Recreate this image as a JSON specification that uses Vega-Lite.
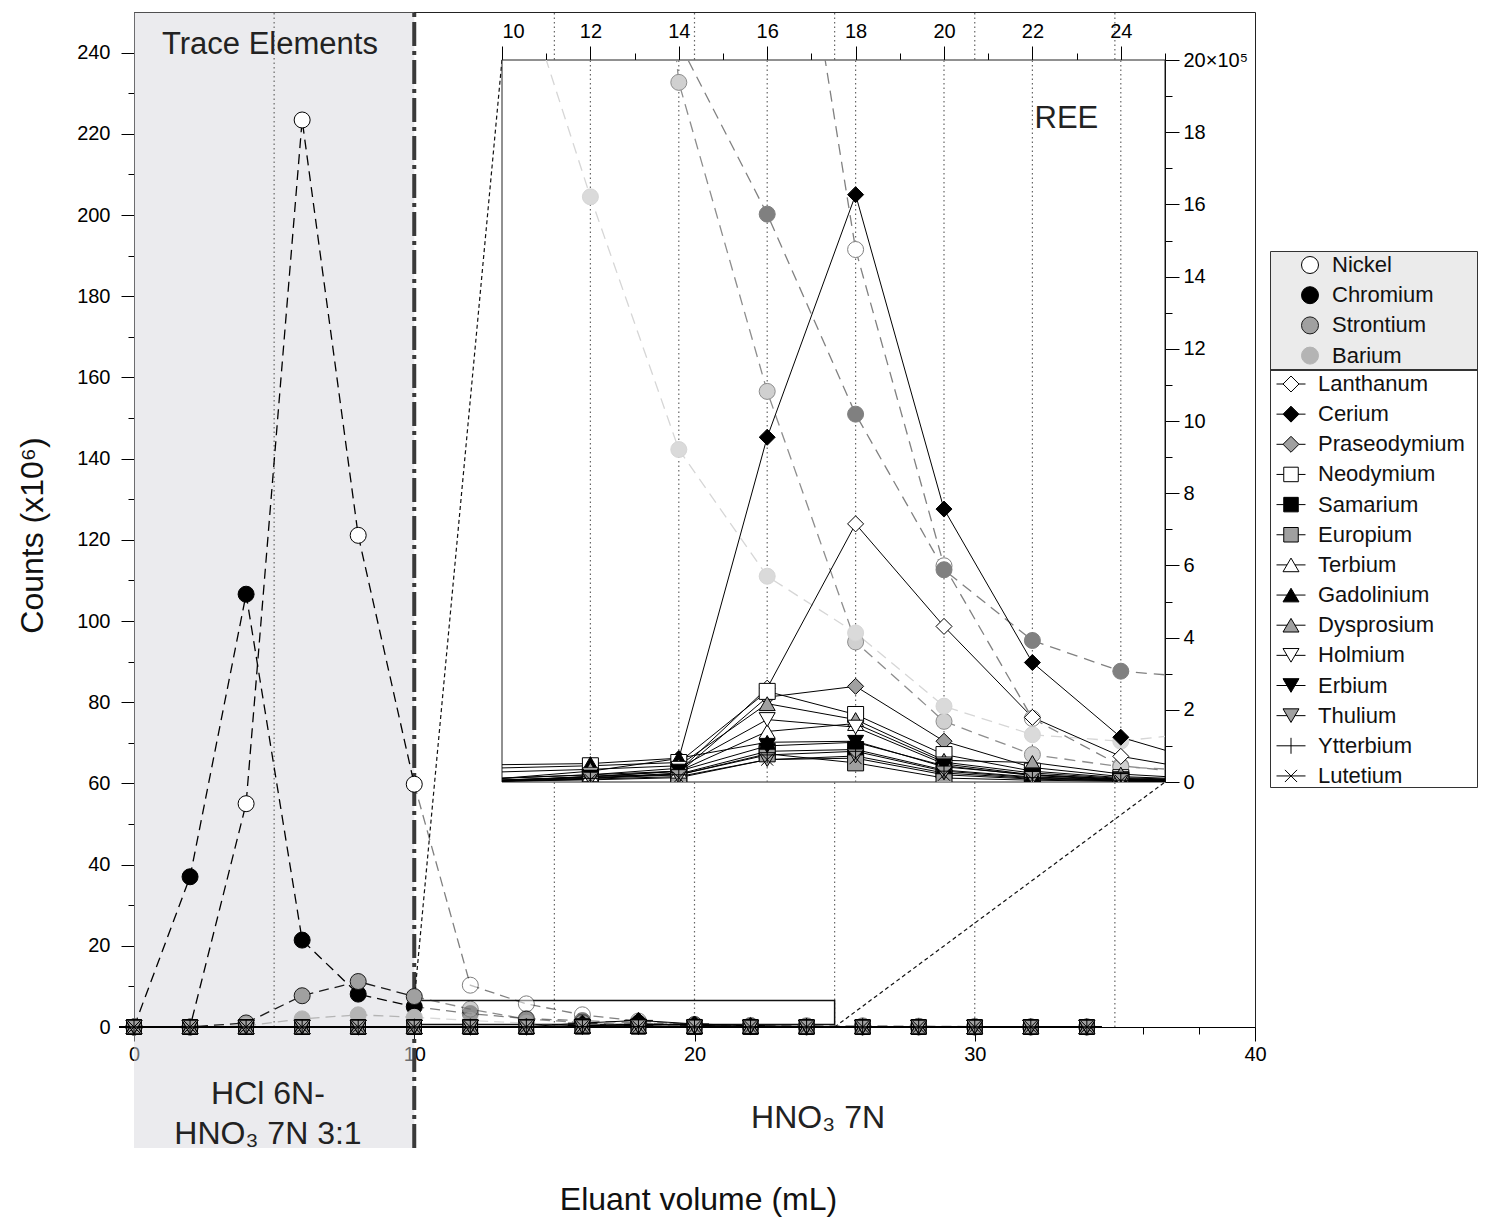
{
"$schema": "https://vega.github.io/schema/vega-lite/v6.json",
"autosize": {"type": "none"},
"padding": {"left": 134, "top": 12, "right": 233, "bottom": 194},
"width": 1121, "height": 1015,
"background": "white",
"view": {"stroke": "#222", "strokeWidth": 1},
"config": {
  "font": "Liberation Sans",
  "axis": {"grid": false, "labelFont": "Liberation Sans", "titleFont": "Liberation Sans", "labelFontSize": 20, "titleFontSize": 32, "titleFontWeight": "normal", "labelColor": "#000", "titleColor": "#111", "domainColor": "#000", "tickColor": "#000", "labelOverlap": false},
  "legend": {"labelFont": "Liberation Sans", "labelFontSize": 22, "labelColor": "#111", "labelLimit": 400, "symbolOpacity": 1}
},
"datasets": {
"trace": [
{"el":"Nickel","x":0,"c":0},{"el":"Nickel","x":2,"c":0},{"el":"Nickel","x":4,"c":55.0},{"el":"Nickel","x":6,"c":223.4},{"el":"Nickel","x":8,"c":121.1},{"el":"Nickel","x":10,"c":59.8},{"el":"Nickel","x":12,"c":10.3},{"el":"Nickel","x":14,"c":5.7},{"el":"Nickel","x":16,"c":3.0},{"el":"Nickel","x":18,"c":1.475},{"el":"Nickel","x":20,"c":0.599},{"el":"Nickel","x":22,"c":0.176},{"el":"Nickel","x":24,"c":0.045},{"el":"Nickel","x":26,"c":0.02},{"el":"Nickel","x":28,"c":0.01},{"el":"Nickel","x":30,"c":0},{"el":"Nickel","x":32,"c":0},{"el":"Nickel","x":34,"c":0},
{"el":"Chromium","x":0,"c":0},{"el":"Chromium","x":2,"c":37.0},{"el":"Chromium","x":4,"c":106.6},{"el":"Chromium","x":6,"c":21.4},{"el":"Chromium","x":8,"c":8.1},{"el":"Chromium","x":10,"c":5.0},{"el":"Chromium","x":12,"c":3.3},{"el":"Chromium","x":14,"c":2.05},{"el":"Chromium","x":16,"c":1.573},{"el":"Chromium","x":18,"c":1.019},{"el":"Chromium","x":20,"c":0.588},{"el":"Chromium","x":22,"c":0.392},{"el":"Chromium","x":24,"c":0.307},{"el":"Chromium","x":26,"c":0.287},{"el":"Chromium","x":28,"c":0.2},{"el":"Chromium","x":30,"c":0.1},{"el":"Chromium","x":32,"c":0.05},{"el":"Chromium","x":34,"c":0.03},
{"el":"Strontium","x":0,"c":0},{"el":"Strontium","x":2,"c":0},{"el":"Strontium","x":4,"c":1.0},{"el":"Strontium","x":6,"c":7.7},{"el":"Strontium","x":8,"c":11.2},{"el":"Strontium","x":10,"c":7.5},{"el":"Strontium","x":12,"c":4.4},{"el":"Strontium","x":14,"c":1.938},{"el":"Strontium","x":16,"c":1.082},{"el":"Strontium","x":18,"c":0.388},{"el":"Strontium","x":20,"c":0.168},{"el":"Strontium","x":22,"c":0.076},{"el":"Strontium","x":24,"c":0.042},{"el":"Strontium","x":26,"c":0.03},{"el":"Strontium","x":28,"c":0.02},{"el":"Strontium","x":30,"c":0.01},{"el":"Strontium","x":32,"c":0},{"el":"Strontium","x":34,"c":0},
{"el":"Barium","x":0,"c":0},{"el":"Barium","x":2,"c":0},{"el":"Barium","x":4,"c":0.3},{"el":"Barium","x":6,"c":2.0},{"el":"Barium","x":8,"c":3.0},{"el":"Barium","x":10,"c":2.38},{"el":"Barium","x":12,"c":1.621},{"el":"Barium","x":14,"c":0.921},{"el":"Barium","x":16,"c":0.57},{"el":"Barium","x":18,"c":0.413},{"el":"Barium","x":20,"c":0.21},{"el":"Barium","x":22,"c":0.131},{"el":"Barium","x":24,"c":0.113},{"el":"Barium","x":26,"c":0.14},{"el":"Barium","x":28,"c":0.08},{"el":"Barium","x":30,"c":0.04},{"el":"Barium","x":32,"c":0.02},{"el":"Barium","x":34,"c":0.01}
],
"ree": [
{"el":"Lanthanum","x":0,"c":0},{"el":"Lanthanum","x":2,"c":0},{"el":"Lanthanum","x":4,"c":0},{"el":"Lanthanum","x":6,"c":0},{"el":"Lanthanum","x":8,"c":0},{"el":"Lanthanum","x":10,"c":0.005},{"el":"Lanthanum","x":12,"c":0.015},{"el":"Lanthanum","x":14,"c":0.03},{"el":"Lanthanum","x":16,"c":0.26},{"el":"Lanthanum","x":18,"c":0.715},{"el":"Lanthanum","x":20,"c":0.431},{"el":"Lanthanum","x":22,"c":0.179},{"el":"Lanthanum","x":24,"c":0.071},{"el":"Lanthanum","x":26,"c":0.029},{"el":"Lanthanum","x":28,"c":0.012},{"el":"Lanthanum","x":30,"c":0.005},{"el":"Lanthanum","x":32,"c":0.003},{"el":"Lanthanum","x":34,"c":0.002},
{"el":"Cerium","x":0,"c":0},{"el":"Cerium","x":2,"c":0},{"el":"Cerium","x":4,"c":0},{"el":"Cerium","x":6,"c":0},{"el":"Cerium","x":8,"c":0},{"el":"Cerium","x":10,"c":0.01},{"el":"Cerium","x":12,"c":0.03},{"el":"Cerium","x":14,"c":0.065},{"el":"Cerium","x":16,"c":0.955},{"el":"Cerium","x":18,"c":1.627},{"el":"Cerium","x":20,"c":0.756},{"el":"Cerium","x":22,"c":0.331},{"el":"Cerium","x":24,"c":0.124},{"el":"Cerium","x":26,"c":0.052},{"el":"Cerium","x":28,"c":0.02},{"el":"Cerium","x":30,"c":0.008},{"el":"Cerium","x":32,"c":0.004},{"el":"Cerium","x":34,"c":0.002},
{"el":"Praseodymium","x":0,"c":0},{"el":"Praseodymium","x":2,"c":0},{"el":"Praseodymium","x":4,"c":0},{"el":"Praseodymium","x":6,"c":0},{"el":"Praseodymium","x":8,"c":0},{"el":"Praseodymium","x":10,"c":0.003},{"el":"Praseodymium","x":12,"c":0.01},{"el":"Praseodymium","x":14,"c":0.025},{"el":"Praseodymium","x":16,"c":0.235},{"el":"Praseodymium","x":18,"c":0.265},{"el":"Praseodymium","x":20,"c":0.113},{"el":"Praseodymium","x":22,"c":0.04},{"el":"Praseodymium","x":24,"c":0.015},{"el":"Praseodymium","x":26,"c":0.006},{"el":"Praseodymium","x":28,"c":0.003},{"el":"Praseodymium","x":30,"c":0.002},{"el":"Praseodymium","x":32,"c":0.001},{"el":"Praseodymium","x":34,"c":0.001},
{"el":"Neodymium","x":0,"c":0},{"el":"Neodymium","x":2,"c":0},{"el":"Neodymium","x":4,"c":0},{"el":"Neodymium","x":6,"c":0},{"el":"Neodymium","x":8,"c":0},{"el":"Neodymium","x":10,"c":0.039},{"el":"Neodymium","x":12,"c":0.045},{"el":"Neodymium","x":14,"c":0.054},{"el":"Neodymium","x":16,"c":0.251},{"el":"Neodymium","x":18,"c":0.187},{"el":"Neodymium","x":20,"c":0.076},{"el":"Neodymium","x":22,"c":0.03},{"el":"Neodymium","x":24,"c":0.012},{"el":"Neodymium","x":26,"c":0.005},{"el":"Neodymium","x":28,"c":0.003},{"el":"Neodymium","x":30,"c":0.002},{"el":"Neodymium","x":32,"c":0.001},{"el":"Neodymium","x":34,"c":0.001},
{"el":"Samarium","x":0,"c":0},{"el":"Samarium","x":2,"c":0},{"el":"Samarium","x":4,"c":0},{"el":"Samarium","x":6,"c":0},{"el":"Samarium","x":8,"c":0},{"el":"Samarium","x":10,"c":0.006},{"el":"Samarium","x":12,"c":0.012},{"el":"Samarium","x":14,"c":0.022},{"el":"Samarium","x":16,"c":0.085},{"el":"Samarium","x":18,"c":0.09},{"el":"Samarium","x":20,"c":0.033},{"el":"Samarium","x":22,"c":0.014},{"el":"Samarium","x":24,"c":0.006},{"el":"Samarium","x":26,"c":0.003},{"el":"Samarium","x":28,"c":0.002},{"el":"Samarium","x":30,"c":0.001},{"el":"Samarium","x":32,"c":0.001},{"el":"Samarium","x":34,"c":0},
{"el":"Europium","x":0,"c":0},{"el":"Europium","x":2,"c":0},{"el":"Europium","x":4,"c":0},{"el":"Europium","x":6,"c":0},{"el":"Europium","x":8,"c":0},{"el":"Europium","x":10,"c":0.002},{"el":"Europium","x":12,"c":0.016},{"el":"Europium","x":14,"c":0.02},{"el":"Europium","x":16,"c":0.078},{"el":"Europium","x":18,"c":0.053},{"el":"Europium","x":20,"c":0.011},{"el":"Europium","x":22,"c":0.005},{"el":"Europium","x":24,"c":0.002},{"el":"Europium","x":26,"c":0.001},{"el":"Europium","x":28,"c":0.001},{"el":"Europium","x":30,"c":0},{"el":"Europium","x":32,"c":0},{"el":"Europium","x":34,"c":0},
{"el":"Terbium","x":0,"c":0},{"el":"Terbium","x":2,"c":0},{"el":"Terbium","x":4,"c":0},{"el":"Terbium","x":6,"c":0},{"el":"Terbium","x":8,"c":0},{"el":"Terbium","x":10,"c":0.01},{"el":"Terbium","x":12,"c":0.02},{"el":"Terbium","x":14,"c":0.03},{"el":"Terbium","x":16,"c":0.14},{"el":"Terbium","x":18,"c":0.162},{"el":"Terbium","x":20,"c":0.055},{"el":"Terbium","x":22,"c":0.025},{"el":"Terbium","x":24,"c":0.01},{"el":"Terbium","x":26,"c":0.004},{"el":"Terbium","x":28,"c":0.002},{"el":"Terbium","x":30,"c":0.001},{"el":"Terbium","x":32,"c":0.001},{"el":"Terbium","x":34,"c":0},
{"el":"Gadolinium","x":0,"c":0},{"el":"Gadolinium","x":2,"c":0},{"el":"Gadolinium","x":4,"c":0},{"el":"Gadolinium","x":6,"c":0},{"el":"Gadolinium","x":8,"c":0},{"el":"Gadolinium","x":10,"c":0.048},{"el":"Gadolinium","x":12,"c":0.051},{"el":"Gadolinium","x":14,"c":0.066},{"el":"Gadolinium","x":16,"c":0.11},{"el":"Gadolinium","x":18,"c":0.113},{"el":"Gadolinium","x":20,"c":0.042},{"el":"Gadolinium","x":22,"c":0.02},{"el":"Gadolinium","x":24,"c":0.008},{"el":"Gadolinium","x":26,"c":0.003},{"el":"Gadolinium","x":28,"c":0.002},{"el":"Gadolinium","x":30,"c":0.001},{"el":"Gadolinium","x":32,"c":0.001},{"el":"Gadolinium","x":34,"c":0},
{"el":"Dysprosium","x":0,"c":0},{"el":"Dysprosium","x":2,"c":0},{"el":"Dysprosium","x":4,"c":0},{"el":"Dysprosium","x":6,"c":0},{"el":"Dysprosium","x":8,"c":0},{"el":"Dysprosium","x":10,"c":0.028},{"el":"Dysprosium","x":12,"c":0.035},{"el":"Dysprosium","x":14,"c":0.045},{"el":"Dysprosium","x":16,"c":0.217},{"el":"Dysprosium","x":18,"c":0.173},{"el":"Dysprosium","x":20,"c":0.06},{"el":"Dysprosium","x":22,"c":0.054},{"el":"Dysprosium","x":24,"c":0.022},{"el":"Dysprosium","x":26,"c":0.008},{"el":"Dysprosium","x":28,"c":0.003},{"el":"Dysprosium","x":30,"c":0.002},{"el":"Dysprosium","x":32,"c":0.001},{"el":"Dysprosium","x":34,"c":0},
{"el":"Holmium","x":0,"c":0},{"el":"Holmium","x":2,"c":0},{"el":"Holmium","x":4,"c":0},{"el":"Holmium","x":6,"c":0},{"el":"Holmium","x":8,"c":0},{"el":"Holmium","x":10,"c":0.011},{"el":"Holmium","x":12,"c":0.02},{"el":"Holmium","x":14,"c":0.038},{"el":"Holmium","x":16,"c":0.173},{"el":"Holmium","x":18,"c":0.152},{"el":"Holmium","x":20,"c":0.05},{"el":"Holmium","x":22,"c":0.02},{"el":"Holmium","x":24,"c":0.008},{"el":"Holmium","x":26,"c":0.003},{"el":"Holmium","x":28,"c":0.002},{"el":"Holmium","x":30,"c":0.001},{"el":"Holmium","x":32,"c":0},{"el":"Holmium","x":34,"c":0},
{"el":"Erbium","x":0,"c":0},{"el":"Erbium","x":2,"c":0},{"el":"Erbium","x":4,"c":0},{"el":"Erbium","x":6,"c":0},{"el":"Erbium","x":8,"c":0},{"el":"Erbium","x":10,"c":0.005},{"el":"Erbium","x":12,"c":0.014},{"el":"Erbium","x":14,"c":0.03},{"el":"Erbium","x":16,"c":0.1},{"el":"Erbium","x":18,"c":0.11},{"el":"Erbium","x":20,"c":0.045},{"el":"Erbium","x":22,"c":0.018},{"el":"Erbium","x":24,"c":0.006},{"el":"Erbium","x":26,"c":0.002},{"el":"Erbium","x":28,"c":0.001},{"el":"Erbium","x":30,"c":0.001},{"el":"Erbium","x":32,"c":0},{"el":"Erbium","x":34,"c":0},
{"el":"Thulium","x":0,"c":0},{"el":"Thulium","x":2,"c":0},{"el":"Thulium","x":4,"c":0},{"el":"Thulium","x":6,"c":0},{"el":"Thulium","x":8,"c":0},{"el":"Thulium","x":10,"c":0.002},{"el":"Thulium","x":12,"c":0.008},{"el":"Thulium","x":14,"c":0.015},{"el":"Thulium","x":16,"c":0.062},{"el":"Thulium","x":18,"c":0.072},{"el":"Thulium","x":20,"c":0.025},{"el":"Thulium","x":22,"c":0.01},{"el":"Thulium","x":24,"c":0.004},{"el":"Thulium","x":26,"c":0.002},{"el":"Thulium","x":28,"c":0.001},{"el":"Thulium","x":30,"c":0},{"el":"Thulium","x":32,"c":0},{"el":"Thulium","x":34,"c":0},
{"el":"Ytterbium","x":0,"c":0},{"el":"Ytterbium","x":2,"c":0},{"el":"Ytterbium","x":4,"c":0},{"el":"Ytterbium","x":6,"c":0},{"el":"Ytterbium","x":8,"c":0},{"el":"Ytterbium","x":10,"c":0.003},{"el":"Ytterbium","x":12,"c":0.01},{"el":"Ytterbium","x":14,"c":0.02},{"el":"Ytterbium","x":16,"c":0.075},{"el":"Ytterbium","x":18,"c":0.085},{"el":"Ytterbium","x":20,"c":0.03},{"el":"Ytterbium","x":22,"c":0.012},{"el":"Ytterbium","x":24,"c":0.005},{"el":"Ytterbium","x":26,"c":0.002},{"el":"Ytterbium","x":28,"c":0.001},{"el":"Ytterbium","x":30,"c":0},{"el":"Ytterbium","x":32,"c":0},{"el":"Ytterbium","x":34,"c":0},
{"el":"Lutetium","x":0,"c":0},{"el":"Lutetium","x":2,"c":0},{"el":"Lutetium","x":4,"c":0},{"el":"Lutetium","x":6,"c":0},{"el":"Lutetium","x":8,"c":0},{"el":"Lutetium","x":10,"c":0.002},{"el":"Lutetium","x":12,"c":0.006},{"el":"Lutetium","x":14,"c":0.012},{"el":"Lutetium","x":16,"c":0.062},{"el":"Lutetium","x":18,"c":0.066},{"el":"Lutetium","x":20,"c":0.02},{"el":"Lutetium","x":22,"c":0.008},{"el":"Lutetium","x":24,"c":0.003},{"el":"Lutetium","x":26,"c":0.001},{"el":"Lutetium","x":28,"c":0.001},{"el":"Lutetium","x":30,"c":0},{"el":"Lutetium","x":32,"c":0},{"el":"Lutetium","x":34,"c":0}
]
},
"resolve": {"scale": {"x": "independent", "y": "independent", "shape": "independent", "fill": "independent", "stroke": "independent", "color": "independent"}},
"layer": [
{
  "layer": [
    {
      "data": {"values": [{}]},
      "mark": {"type": "rect", "fill": "#d7d7dd", "opacity": 0.5},
      "encoding": {
        "x": {"datum": 0, "type": "quantitative", "scale": {"domain": [0, 40], "nice": false, "zero": false},
          "axis": {"title": "Eluant volume (mL)", "values": [0,1,2,3,4,5,6,7,8,9,10,11,12,13,14,15,16,17,18,19,20,21,22,23,24,25,26,27,28,29,30,31,32,33,34,35,36,37,38,39,40],
            "labelExpr": "datum.value % 5 === 0 ? '' + datum.value : ''",
            "tickSize": {"condition": {"test": "datum.value % 5 === 0", "value": 14}, "value": 7},
            "labelPadding": 3, "labelFlush": false, "grid": false,
            "titleX": 564, "titleY": 182, "titleBaseline": "alphabetic", "titleAlign": "center"}},
        "x2": {"datum": 10},
        "y": {"datum": -29.8, "type": "quantitative", "scale": {"domain": [0, 250], "nice": false},
          "axis": {"title": "Counts (x10⁶)", "values": [0,10,20,30,40,50,60,70,80,90,100,110,120,130,140,150,160,170,180,190,200,210,220,230,240],
            "labelExpr": "datum.value % 20 === 0 ? '' + datum.value : ''",
            "tickSize": {"condition": {"test": "datum.value % 20 === 0", "value": 13}, "value": 6},
            "labelPadding": 11,
            "titleX": -92, "titleY": 523, "titleAngle": -90, "titleBaseline": "alphabetic", "titleAlign": "center"}},
        "y2": {"datum": 249.9}
      }
    },
    {
      "data": {"values": [{"g": 5}, {"g": 15}, {"g": 20}, {"g": 25}, {"g": 30}, {"g": 35}]},
      "mark": {"type": "rule", "stroke": "#666", "strokeWidth": 1.2, "strokeDash": [1.5, 3]},
      "encoding": {"x": {"field": "g", "type": "quantitative"}, "y": {"datum": 0}, "y2": {"datum": 250}}
    },
    {
      "data": {"values": [{}]},
      "mark": {"type": "rule", "stroke": "#3a3a3a", "strokeWidth": 4, "strokeDash": [24, 5, 4, 5]},
      "encoding": {"x": {"datum": 10}, "y": {"datum": -29.8}, "y2": {"datum": 250}}
    },
    {
      "data": {"values": [{}]},
      "mark": {"type": "rect", "fill": "transparent", "stroke": "#111", "strokeWidth": 1.5},
      "encoding": {"x": {"datum": 10}, "x2": {"datum": 25}, "y": {"datum": 0.6}, "y2": {"datum": 6.5}}
    },
    {
      "data": {"values": [{}]},
      "mark": {"type": "rule", "stroke": "#111", "strokeWidth": 1.2, "strokeDash": [4, 3]},
      "encoding": {"x": {"datum": 13.131}, "y": {"datum": 238.2}, "x2": {"datum": 10}, "y2": {"datum": 6.5}}
    },
    {
      "data": {"values": [{}]},
      "mark": {"type": "rule", "stroke": "#111", "strokeWidth": 1.2, "strokeDash": [4, 3]},
      "encoding": {"x": {"datum": 25}, "y": {"datum": 0}, "x2": {"datum": 36.79}, "y2": {"datum": 60.34}}
    },
    {
      "data": {"name": "trace"},
      "transform": [{"filter": "datum.x <= 10"}],
      "mark": {"type": "line", "strokeWidth": 1.3, "strokeDash": [10, 6]},
      "encoding": {
        "x": {"field": "x", "type": "quantitative"},
        "y": {"field": "c", "type": "quantitative"},
        "stroke": {"field": "el", "type": "nominal",
          "scale": {"domain": ["Nickel","Chromium","Strontium","Barium"], "range": ["#000000","#000000","#1a1a1a","#b4b4b4"]}}
      }
    },
    {
      "data": {"name": "trace"},
      "transform": [{"filter": "datum.x >= 10"}],
      "mark": {"type": "line", "strokeWidth": 1.3, "strokeDash": [10, 6], "opacity": 0.5},
      "encoding": {
        "x": {"field": "x", "type": "quantitative"},
        "y": {"field": "c", "type": "quantitative"},
        "stroke": {"field": "el", "type": "nominal"}
      }
    },
    {
      "data": {"name": "ree"},
      "mark": {"type": "line", "stroke": "#000", "strokeWidth": 1},
      "encoding": {
        "x": {"field": "x", "type": "quantitative"},
        "y": {"field": "c", "type": "quantitative"},
        "detail": {"field": "el", "type": "nominal"}
      }
    },
    {
      "data": {"name": "trace"},
      "mark": {"type": "point", "shape": "circle", "filled": true, "size": 256, "strokeWidth": 1},
      "encoding": {
        "x": {"field": "x", "type": "quantitative"},
        "y": {"field": "c", "type": "quantitative"},
        "fill": {"field": "el", "type": "nominal",
          "scale": {"domain": ["Nickel","Chromium","Strontium","Barium"], "range": ["#ffffff","#000000","#a0a0a0","#b4b4b4"]},
          "legend": {"orient": "none", "legendX": 1136, "legendY": 239, "padding": 3, "rowPadding": 8.2,
            "symbolType": "circle", "symbolSize": 289, "symbolStrokeWidth": 1, "symbolOffset": 26, "labelOffset": 11,
            "fillColor": "#ebebeb", "strokeColor": "#333",
            "title": "\u00a0", "titleOrient": "right", "titlePadding": 41, "titleFontSize": 10}},
        "stroke": {"field": "el", "type": "nominal"},
        "opacity": {"condition": {"test": "datum.x > 10", "value": 0.5}, "value": 1}
      }
    },
    {
      "data": {"name": "ree"},
      "mark": {"type": "point", "filled": true, "size": 841, "stroke": "#000", "strokeWidth": 1, "opacity": 1},
      "encoding": {
        "x": {"field": "x", "type": "quantitative"},
        "y": {"field": "c", "type": "quantitative"},
        "shape": {"field": "el", "type": "nominal",
          "scale": {"domain": ["Lanthanum","Cerium","Praseodymium","Neodymium","Samarium","Europium","Terbium","Gadolinium","Dysprosium","Holmium","Erbium","Thulium","Ytterbium","Lutetium"],
            "range": [
              "M-1,0L-0.55,0M0.55,0L1,0M0,-0.55L0.55,0L0,0.55L-0.55,0Z",
              "M-1,0L-0.55,0M0.55,0L1,0M0,-0.55L0.55,0L0,0.55L-0.55,0Z",
              "M-1,0L-0.55,0M0.55,0L1,0M0,-0.55L0.55,0L0,0.55L-0.55,0Z",
              "M-1,0L-0.5,0M0.5,0L1,0M-0.5,-0.5L0.5,-0.5L0.5,0.5L-0.5,0.5Z",
              "M-1,0L-0.5,0M0.5,0L1,0M-0.5,-0.5L0.5,-0.5L0.5,0.5L-0.5,0.5Z",
              "M-1,0L-0.5,0M0.5,0L1,0M-0.5,-0.5L0.5,-0.5L0.5,0.5L-0.5,0.5Z",
              "M-1,0L-0.27,0M0.27,0L1,0M0,-0.47L0.55,0.47L-0.55,0.47Z",
              "M-1,0L-0.27,0M0.27,0L1,0M0,-0.47L0.55,0.47L-0.55,0.47Z",
              "M-1,0L-0.27,0M0.27,0L1,0M0,-0.47L0.55,0.47L-0.55,0.47Z",
              "M-1,0L-0.27,0M0.27,0L1,0M0,0.47L0.55,-0.47L-0.55,-0.47Z",
              "M-1,0L-0.27,0M0.27,0L1,0M0,0.47L0.55,-0.47L-0.55,-0.47Z",
              "M-1,0L-0.27,0M0.27,0L1,0M0,0.47L0.55,-0.47L-0.55,-0.47Z",
              "M-1,0L1,0M0,-0.55L0,0.55",
              "M-1,0L1,0M-0.42,-0.42L0.42,0.42M-0.42,0.42L0.42,-0.42"]}},
        "color": {"field": "el", "type": "nominal",
          "scale": {"domain": ["Lanthanum","Cerium","Praseodymium","Neodymium","Samarium","Europium","Terbium","Gadolinium","Dysprosium","Holmium","Erbium","Thulium","Ytterbium","Lutetium"],
            "range": ["#ffffff","#000000","#a0a0a0","#ffffff","#000000","#a0a0a0","#ffffff","#000000","#a0a0a0","#ffffff","#000000","#a0a0a0","#000000","#000000"]},
          "legend": {"orient": "none", "legendX": 1136, "legendY": 357, "padding": 0, "rowPadding": 4.15,
            "symbolSize": 841, "symbolStrokeWidth": 1, "symbolStrokeColor": "#000", "symbolOffset": 6, "labelOffset": 12,
            "strokeColor": "#333",
            "title": "\u00a0", "titleOrient": "right", "titlePadding": 12, "titleFontSize": 10}}
      }
    },
    {
      "data": {"values": [{}]},
      "mark": {"type": "text", "text": "Trace Elements", "fontSize": 31, "align": "center", "baseline": "alphabetic", "color": "#222"},
      "encoding": {"x": {"datum": 4.85}, "y": {"datum": 239.7}}
    },
    {
      "data": {"values": [{}]},
      "mark": {"type": "text", "text": "HCl 6N-", "fontSize": 32, "align": "center", "baseline": "alphabetic", "color": "#222"},
      "encoding": {"x": {"datum": 4.78}, "y": {"datum": -18.95}}
    },
    {
      "data": {"values": [{}]},
      "mark": {"type": "text", "text": "HNO₃ 7N 3:1", "fontSize": 32, "align": "center", "baseline": "alphabetic", "color": "#222"},
      "encoding": {"x": {"datum": 4.78}, "y": {"datum": -28.9}}
    },
    {
      "data": {"values": [{}]},
      "mark": {"type": "text", "text": "HNO₃ 7N", "fontSize": 32, "align": "center", "baseline": "alphabetic", "color": "#222"},
      "encoding": {"x": {"datum": 24.41}, "y": {"datum": -24.8}}
    }
  ]
},
{
  "layer": [
    {
      "data": {"values": [{}]},
      "mark": {"type": "rect", "fill": "white", "stroke": "#222", "strokeWidth": 1},
      "encoding": {
        "x": {"datum": 10, "type": "quantitative", "scale": {"domain": [10, 25], "range": [368, 1031], "nice": false, "zero": false},
          "axis": {"orient": "top", "offset": -48, "title": null, "values": [10,11,12,13,14,15,16,17,18,19,20,21,22,23,24,25],
            "labelExpr": "datum.value % 2 === 0 && datum.value < 25 ? '' + datum.value : ''",
            "tickSize": {"condition": {"test": "datum.value % 2 === 0", "value": 14}, "value": 7},
            "labelPadding": 5, "labelFlush": true, "grid": false}},
        "x2": {"datum": 25},
        "y": {"datum": 0, "type": "quantitative", "scale": {"domain": [0, 2], "range": [770, 48], "nice": false, "zero": false},
          "axis": {"orient": "right", "offset": -90, "title": null, "values": [0,0.1,0.2,0.3,0.4,0.5,0.6,0.7,0.8,0.9,1,1.1,1.2,1.3,1.4,1.5,1.6,1.7,1.8,1.9,2],
            "labelExpr": "round(datum.value * 10) % 2 === 0 ? (round(datum.value * 10) === 20 ? '20×10⁵' : '' + round(datum.value * 10)) : ''",
            "tickSize": {"condition": {"test": "round(datum.value * 10) % 2 === 0", "value": 14}, "value": 7},
            "labelPadding": 4, "grid": false}},
        "y2": {"datum": 2}
      }
    },
    {
      "data": {"values": [{"g": 12}, {"g": 14}, {"g": 16}, {"g": 18}, {"g": 20}, {"g": 22}, {"g": 24}]},
      "mark": {"type": "rule", "stroke": "#666", "strokeWidth": 1.2, "strokeDash": [1.5, 3]},
      "encoding": {"x": {"field": "g", "type": "quantitative"}, "y": {"datum": 0}, "y2": {"datum": 2}}
    },
    {
      "data": {"name": "trace"},
      "mark": {"type": "line", "strokeWidth": 1.3, "strokeDash": [11, 7], "clip": {"expr": "pathShape('M368,48h663v722h-663Z')"}},
      "encoding": {
        "x": {"field": "x", "type": "quantitative"},
        "y": {"field": "c", "type": "quantitative"},
        "stroke": {"field": "el", "type": "nominal",
          "scale": {"domain": ["Nickel","Chromium","Strontium","Barium"], "range": ["#808080","#808080","#8d8d8d","#d6d6d6"]}, "legend": null}
      }
    },
    {
      "data": {"name": "ree"},
      "mark": {"type": "line", "stroke": "#000", "strokeWidth": 1, "clip": {"expr": "pathShape('M368,48h663v722h-663Z')"}},
      "encoding": {
        "x": {"field": "x", "type": "quantitative"},
        "y": {"field": "c", "type": "quantitative"},
        "detail": {"field": "el", "type": "nominal"}
      }
    },
    {
      "data": {"name": "trace"},
      "mark": {"type": "point", "shape": "circle", "filled": true, "size": 256, "strokeWidth": 1, "opacity": 1, "clip": {"expr": "pathShape('M368,48h663v722h-663Z')"}},
      "encoding": {
        "x": {"field": "x", "type": "quantitative"},
        "y": {"field": "c", "type": "quantitative"},
        "fill": {"field": "el", "type": "nominal",
          "scale": {"domain": ["Nickel","Chromium","Strontium","Barium"], "range": ["#ffffff","#808080","#d0d0d0","#dadada"]}, "legend": null},
        "stroke": {"field": "el", "type": "nominal", "legend": null}
      }
    },
    {
      "data": {"name": "ree"},
      "transform": [{"filter": "datum.x > 10"}],
      "mark": {"type": "point", "filled": true, "size": 256, "stroke": "#000", "strokeWidth": 1, "opacity": 1, "clip": {"expr": "pathShape('M368,48h663v722h-663Z')"}},
      "encoding": {
        "x": {"field": "x", "type": "quantitative"},
        "y": {"field": "c", "type": "quantitative"},
        "shape": {"field": "el", "type": "nominal",
          "scale": {"domain": ["Lanthanum","Cerium","Praseodymium","Neodymium","Samarium","Europium","Terbium","Gadolinium","Dysprosium","Holmium","Erbium","Thulium","Ytterbium","Lutetium"],
            "range": ["diamond","diamond","diamond","square","square","square","triangle-up","triangle-up","triangle-up","triangle-down","triangle-down","triangle-down","M-1,0L1,0M0,-1L0,1","M-0.75,-0.75L0.75,0.75M-0.75,0.75L0.75,-0.75"]},
          "legend": null},
        "color": {"field": "el", "type": "nominal",
          "scale": {"domain": ["Lanthanum","Cerium","Praseodymium","Neodymium","Samarium","Europium","Terbium","Gadolinium","Dysprosium","Holmium","Erbium","Thulium","Ytterbium","Lutetium"],
            "range": ["#ffffff","#000000","#a0a0a0","#ffffff","#000000","#a0a0a0","#ffffff","#000000","#a0a0a0","#ffffff","#000000","#a0a0a0","#000000","#000000"]},
          "legend": null}
      }
    },
    {
      "data": {"values": [{}]},
      "mark": {"type": "text", "text": "REE", "fontSize": 31, "align": "center", "baseline": "alphabetic", "color": "#222"},
      "encoding": {"x": {"datum": 22.77}, "y": {"datum": 1.811}}
    }
  ]
}
]
}
